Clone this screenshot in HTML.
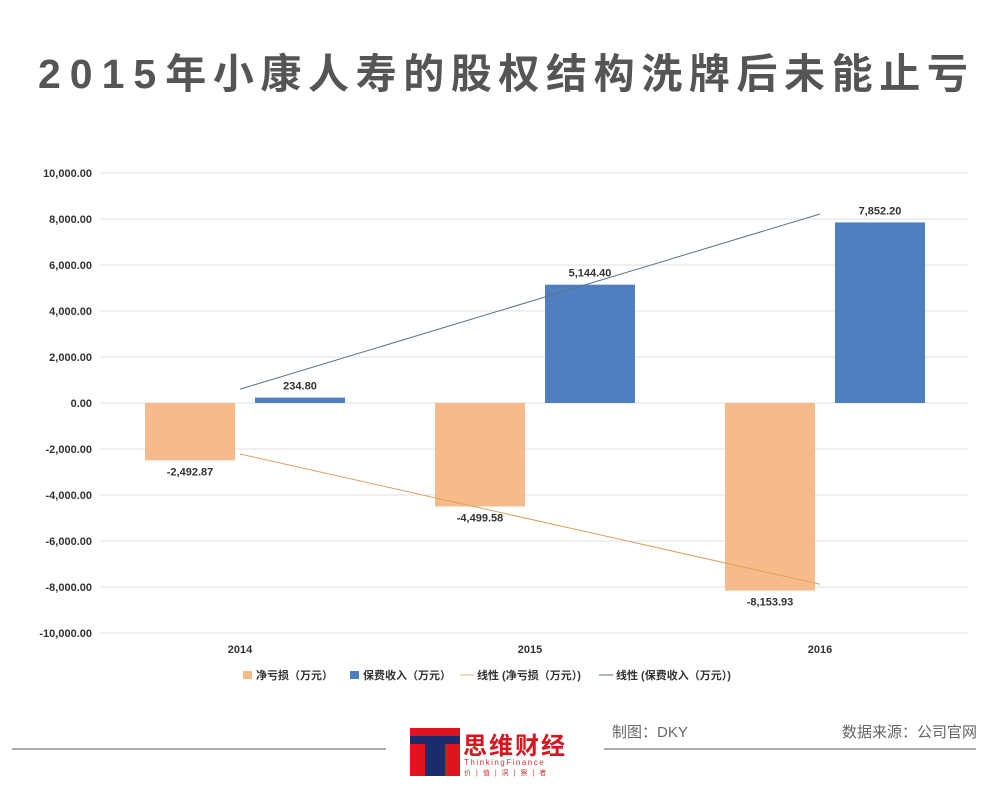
<!DOCTYPE html>
<html><head><meta charset="utf-8"><style>
body{margin:0;background:#fff;width:1000px;height:792px;overflow:hidden;position:relative;font-family:"Liberation Sans","Noto Sans CJK SC",sans-serif;}
#title{position:absolute;left:38px;top:48px;font-size:41px;font-weight:bold;color:#555;letter-spacing:6.6px;white-space:nowrap;line-height:52px;}
#title .d{letter-spacing:9px;}
</style></head><body>
<div id="title"><span class="d">2015</span>年小康人寿的股权结构洗牌后未能止亏</div>
<svg id="chart" width="1000" height="792" style="position:absolute;left:0;top:0"></svg>
<script>
const categories=["2014","2015","2016"];
const netLoss=[-2492.87,-4499.58,-8153.93];
const premium=[234.80,5144.40,7852.20];
const netLossLabels=["-2,492.87","-4,499.58","-8,153.93"];
const premiumLabels=["234.80","5,144.40","7,852.20"];
const yTicks=[10000,8000,6000,4000,2000,0,-2000,-4000,-6000,-8000,-10000];
const yTickLabels=["10,000.00","8,000.00","6,000.00","4,000.00","2,000.00","0.00","-2,000.00","-4,000.00","-6,000.00","-8,000.00","-10,000.00"];

const svg=document.getElementById('chart');
const NS='http://www.w3.org/2000/svg';
function y(v){return 403-v*0.023;}
function xc(i){return 240+i*290;}
function mk(tag,attrs,parent){const e=document.createElementNS(NS,tag);for(const k in attrs)e.setAttribute(k,attrs[k]);(parent||svg).appendChild(e);return e;}
const font='"Liberation Sans","Noto Sans CJK SC",sans-serif';

yTicks.forEach((t,i)=>{
  const g=mk('line',{x1:100,x2:968,y1:y(t),y2:y(t),stroke:'#e2e2e2','stroke-width':1});
  
  
  const l=mk('text',{x:92,y:y(t)+4,'text-anchor':'end','font-size':11,'font-weight':'bold',fill:'#333','font-family':font});
  l.textContent=yTickLabels[i];
  
  
});
categories.forEach((c,i)=>{
  const t=mk('text',{x:xc(i),y:653,'text-anchor':'middle','font-size':11,'font-weight':'bold',fill:'#333','font-family':font});
  t.textContent=c;
  
  
  const v1=netLoss[i];
  const b1=mk('rect',{x:xc(i)-95,y:y(0),width:90,height:y(v1)-y(0),fill:'#f5bb8b'});
  
  
  const l1=mk('text',{x:xc(i)-50,y:y(v1)+15,'text-anchor':'middle','font-size':11,'font-weight':'bold',fill:'#333','font-family':font});
  l1.textContent=netLossLabels[i];
  
  
  const v2=premium[i];
  const b2=mk('rect',{x:xc(i)+15,y:y(v2),width:90,height:y(0)-y(v2),fill:'#4f7fbf'});
  
  
  const l2=mk('text',{x:xc(i)+60,y:y(v2)-8,'text-anchor':'middle','font-size':11,'font-weight':'bold',fill:'#333','font-family':font});
  l2.textContent=premiumLabels[i];
  
  
});
function trend(arr,color,name){
  const n=arr.length,mx=(n-1)/2,my=arr.reduce((a,b)=>a+b,0)/n;
  let num=0,den=0;arr.forEach((v,i)=>{num+=(i-mx)*(v-my);den+=(i-mx)*(i-mx);});
  const s=num/den;
  const ln=mk('line',{x1:xc(0),y1:y(my+s*(0-mx)),x2:xc(n-1),y2:y(my+s*(n-1-mx)),stroke:color,'stroke-width':1});
  
  
}
trend(premium,'#5a7386','trendline-premium');
trend(netLoss,'#e0a060','trendline-net-loss');

const lg=mk('g',{});


const items=[['rect','#f5bb8b','净亏损（万元）',243],['rect','#4f7fbf','保费收入（万元）',350],['line','#e8cda8','线性 (净亏损（万元）)',464],['line','#8f9aa3','线性 (保费收入（万元）)',603]];
items.forEach(it=>{
  if(it[0]==='rect'){mk('rect',{x:it[3],y:671,width:9,height:8,fill:it[1]},lg);}
  else{mk('line',{x1:it[3]-4,x2:it[3]+10,y1:675,y2:675,stroke:it[1],'stroke-width':1.5},lg);}
  const t=mk('text',{x:it[3]+13,y:679,'font-size':11,'font-weight':'bold',fill:'#333','font-family':font},lg);
  t.textContent=it[2];
  
  
});

const f1=mk('line',{x1:12,x2:386,y1:749,y2:749,stroke:'#aaa','stroke-width':2});


const f2=mk('line',{x1:604,x2:976,y1:749,y2:749,stroke:'#aaa','stroke-width':2});


const logo=mk('g',{});


mk('rect',{x:410,y:728,width:50,height:48,fill:'#e0141e'},logo);
mk('rect',{x:410,y:736,width:50,height:8,fill:'#1c2a6e'},logo);
mk('rect',{x:425,y:736,width:20,height:40,fill:'#1c2a6e'},logo);
const lt=mk('text',{x:463,y:754,'font-size':24,'font-weight':'bold',fill:'#d8141e','font-family':font,'letter-spacing':2},logo);
lt.textContent='思维财经';
const lt2=mk('text',{x:464,y:765,'font-size':8,fill:'#c33','font-family':font,'letter-spacing':1.5},logo);
lt2.textContent='ThinkingFinance';
const lt3=mk('text',{x:464,y:775,'font-size':7,fill:'#c33','font-family':font,'letter-spacing':5},logo);
lt3.textContent='价|值|洞|察|者';
const m=mk('text',{x:612,y:737,'font-size':15,fill:'#666','font-family':font});
m.textContent='制图：DKY';


const s=mk('text',{x:977,y:737,'text-anchor':'end','font-size':15,fill:'#666','font-family':font});
s.textContent='数据来源：公司官网';


</script>
</body></html>
